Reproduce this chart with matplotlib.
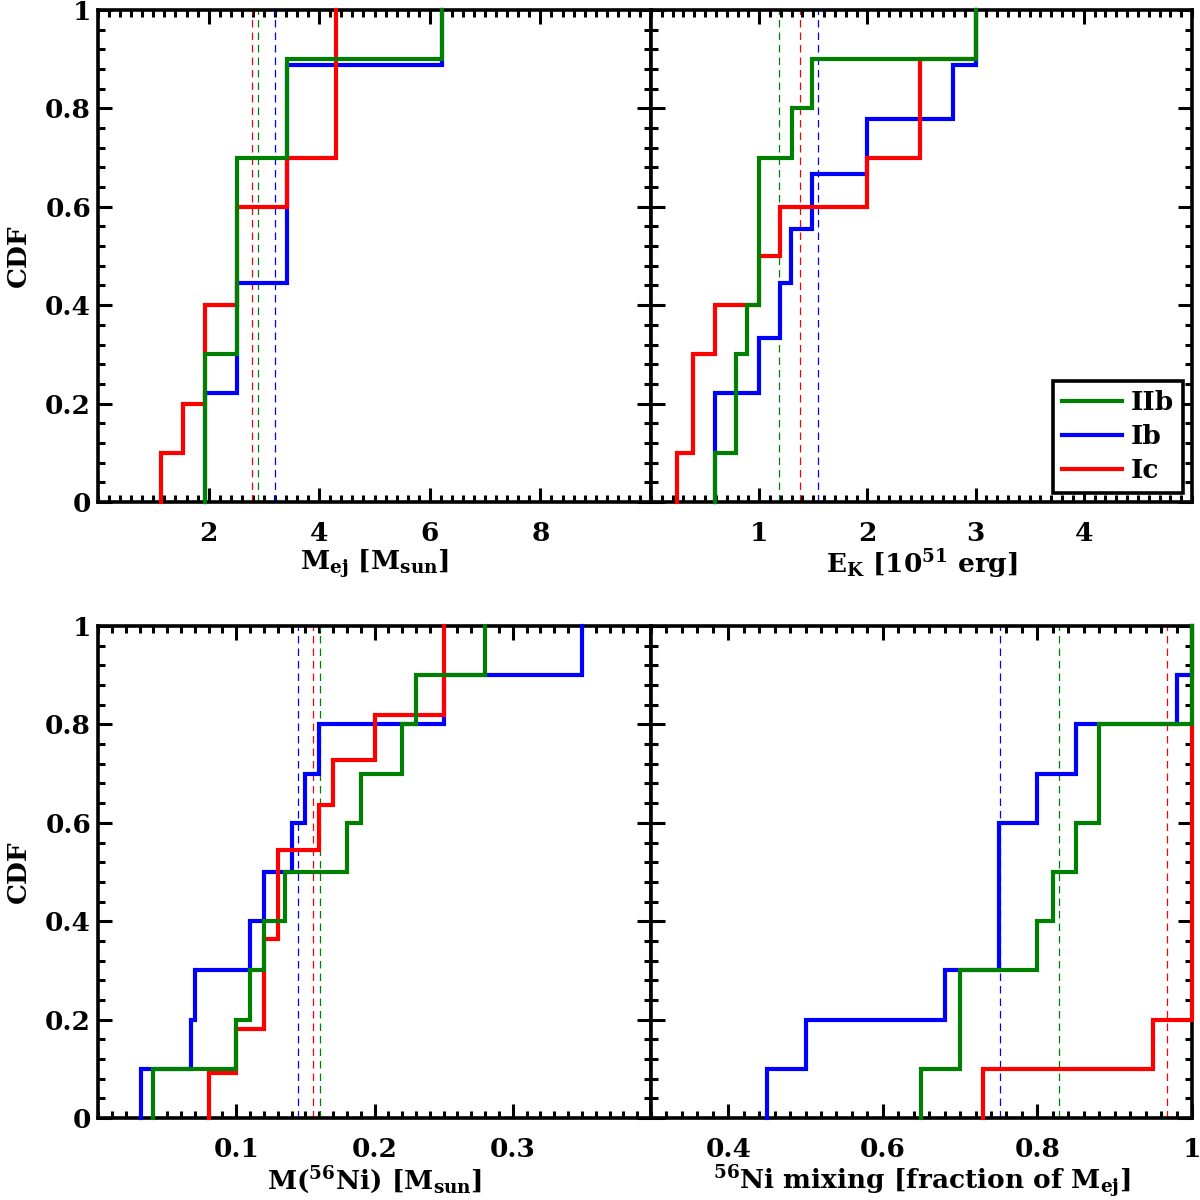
import numpy as np
import matplotlib
matplotlib.use("Agg")
import matplotlib.pyplot as plt
from matplotlib.ticker import MultipleLocator, FixedLocator, FixedFormatter
from matplotlib.lines import Line2D

plt.rcParams['font.family'] = ['DejaVu Serif']
plt.rcParams['font.weight'] = 'bold'
plt.rcParams['axes.labelweight'] = 'bold'
plt.rcParams['mathtext.fontset'] = 'custom'
plt.rcParams['mathtext.rm'] = 'DejaVu Serif:bold'
plt.rcParams['mathtext.it'] = 'DejaVu Serif:bold'
plt.rcParams['mathtext.bf'] = 'DejaVu Serif:bold'

FS = 19

# SN types, legend order
TYPES = ['IIb', 'Ib', 'Ic']
COLORS = {'IIb': '#008000', 'Ib': '#0000ff', 'Ic': '#ff0000'}
DRAW_ORDER = ['Ib', 'Ic', 'IIb']

# ejecta mass [Msun]
mej_IIb = [1.93, 1.93, 1.93, 2.51, 2.51, 2.51, 2.51, 3.42, 3.42, 6.22]
mej_Ib = [1.93, 1.93, 2.51, 2.51, 3.42, 3.42, 3.42, 3.42, 6.22]
mej_Ic = [1.13, 1.53, 1.93, 1.93, 2.51, 2.51, 3.42, 4.31, 4.31, 4.31]
mej_mean = {'IIb': 2.89, 'Ib': 3.20, 'Ic': 2.79}

# kinetic energy [1e51 erg]
ek_IIb = [0.59, 0.79, 0.79, 0.89, 1.0, 1.0, 1.0, 1.30, 1.49, 3.0]
ek_Ib = [0.59, 0.59, 1.0, 1.19, 1.29, 1.49, 2.0, 2.79, 3.0]
ek_Ic = [0.24, 0.39, 0.39, 0.59, 1.0, 1.19, 2.0, 2.49, 2.49, 3.0]
ek_mean = {'IIb': 1.184, 'Ib': 1.548, 'Ic': 1.378}

# 56Ni mass [Msun]
mni_IIb = [0.040, 0.100, 0.110, 0.120, 0.135, 0.180, 0.190, 0.220, 0.230, 0.280]
mni_Ib = [0.031, 0.067, 0.070, 0.110, 0.120, 0.140, 0.150, 0.160, 0.250, 0.350]
mni_Ic = [0.080, 0.100, 0.120, 0.120, 0.130, 0.130, 0.160, 0.170, 0.200, 0.250, 0.250]
mni_mean = {'IIb': 0.1606, 'Ib': 0.1448, 'Ic': 0.1555}

# 56Ni mixing [fraction of Mej]
mix_IIb = [0.65, 0.70, 0.70, 0.80, 0.82, 0.85, 0.88, 0.88, 1.0, 1.0]
mix_Ib = [0.45, 0.50, 0.68, 0.75, 0.75, 0.75, 0.80, 0.85, 0.98, 1.0]
mix_Ic = [0.73, 0.95, 1.0, 1.0, 1.0, 1.0, 1.0, 1.0, 1.0, 1.0]
mix_mean = {'IIb': 0.828, 'Ib': 0.751, 'Ic': 0.968}

y_ticks = [0, 0.2, 0.4, 0.6, 0.8, 1.0]
y_ticklabels = ['0', '0.2', '0.4', '0.6', '0.8', '1']

panels = [
    dict(data={'IIb': mej_IIb, 'Ib': mej_Ib, 'Ic': mej_Ic}, means=mej_mean,
         xlim=(0, 10), ticks=[2, 4, 6, 8], labels=['2', '4', '6', '8'], minor=0.2,
         xlabel=r'M$_{\rm ej}$ [M$_{\rm sun}$]'),
    dict(data={'IIb': ek_IIb, 'Ib': ek_Ib, 'Ic': ek_Ic}, means=ek_mean,
         xlim=(0, 5), ticks=[1, 2, 3, 4], labels=['1', '2', '3', '4'], minor=0.1,
         xlabel=r'E$_{\rm K}$ [10$^{\rm 51}$ erg]'),
    dict(data={'IIb': mni_IIb, 'Ib': mni_Ib, 'Ic': mni_Ic}, means=mni_mean,
         xlim=(0, 0.4), ticks=[0.1, 0.2, 0.3], labels=['0.1', '0.2', '0.3'], minor=0.01,
         xlabel=r'M($^{\rm 56}$Ni) [M$_{\rm sun}$]'),
    dict(data={'IIb': mix_IIb, 'Ib': mix_Ib, 'Ic': mix_Ic}, means=mix_mean,
         xlim=(0.3, 1.0), ticks=[0.4, 0.6, 0.8, 1.0], labels=['0.4', '0.6', '0.8', '1'],
         minor=0.02, xlabel=r'$^{\rm 56}$Ni mixing [fraction of M$_{\rm ej}$]'),
]

# axes rectangles in figure fractions [left, bottom, width, height]
rects = [
    [0.0817, 0.5817, 0.4608, 0.4100],
    [0.5425, 0.5817, 0.4508, 0.4100],
    [0.0817, 0.0683, 0.4608, 0.4100],
    [0.5425, 0.0683, 0.4508, 0.4100],
]


def ecdf_path(values):
    """Step path of the empirical CDF, starting from zero at the lowest value."""
    v = np.sort(np.asarray(values, dtype=float))
    u, counts = np.unique(v, return_counts=True)
    cdf = np.cumsum(counts) / len(v)
    xs = np.repeat(u, 2)
    ys = np.concatenate([[0.0], np.repeat(cdf, 2)[:-1]])
    return xs, ys


fig = plt.figure(figsize=(12, 12), dpi=100)

for i, (p, r) in enumerate(zip(panels, rects)):
    ax = fig.add_axes(r)
    for t in DRAW_ORDER:
        xs, ys = ecdf_path(p['data'][t])
        ax.plot(xs, ys, color=COLORS[t], lw=3.0, zorder=3, clip_on=False,
                solid_joinstyle='miter')
        ax.axvline(p['means'][t], color=COLORS[t], lw=0.9, ls=(0, (6, 4)), zorder=2)

    ax.set_xlim(*p['xlim'])
    ax.set_ylim(0, 1)
    ax.xaxis.set_major_locator(FixedLocator(p['ticks']))
    ax.xaxis.set_major_formatter(FixedFormatter(p['labels']))
    ax.xaxis.set_minor_locator(MultipleLocator(p['minor']))
    ax.yaxis.set_major_locator(FixedLocator(y_ticks))
    ax.yaxis.set_major_formatter(FixedFormatter(y_ticklabels))
    ax.yaxis.set_minor_locator(MultipleLocator(0.04))

    ax.tick_params(which='both', direction='in', top=True, right=True,
                   width=2.2, labelsize=FS)
    ax.tick_params(which='major', length=10)
    ax.tick_params(which='minor', length=5)
    ax.tick_params(axis='x', pad=14)
    ax.tick_params(axis='y', pad=5)
    for s in ax.spines.values():
        s.set_linewidth(2.6)
        s.set_zorder(2.5)

    ax.set_xlabel(p['xlabel'], fontsize=FS, labelpad=1)
    if i % 2 == 0:
        ax.set_ylabel('CDF', fontsize=FS, labelpad=10)
    else:
        ax.tick_params(axis='y', labelleft=False)

    if i == 1:
        handles = [Line2D([], [], color=COLORS[t], lw=3.0) for t in TYPES]
        leg = ax.legend(handles, TYPES, loc='lower right', fontsize=FS,
                        frameon=True, fancybox=False, framealpha=1,
                        edgecolor='black', handlelength=2.3, handletextpad=0.3,
                        borderpad=0.35, labelspacing=0.35, borderaxespad=0.35)
        leg.get_frame().set_linewidth(2.6)

fig.savefig('out.png', dpi=100)
